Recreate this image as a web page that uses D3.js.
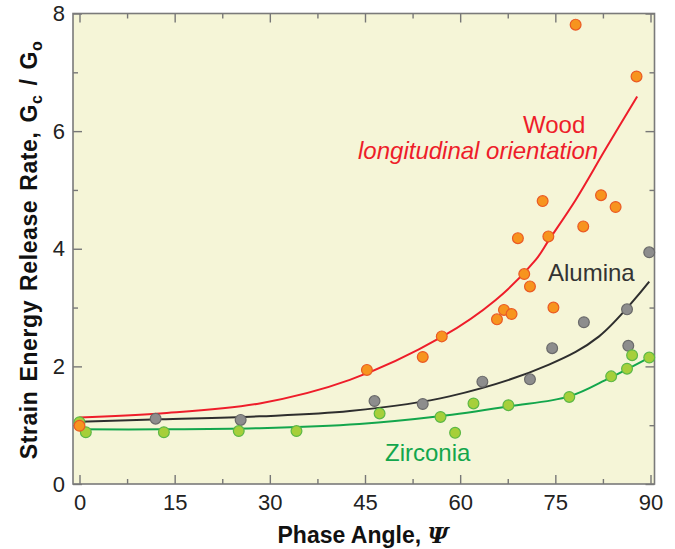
<!DOCTYPE html>
<html>
<head>
<meta charset="utf-8">
<script src="https://cdn.jsdelivr.net/npm/d3@7"></script>
<style>
body { margin: 0; background: #fff; }
text { font-family: "Liberation Sans", Arial, Helvetica, sans-serif; }
</style>
</head>
<body>
<div id="chart-area"></div>
<script>
// Values

var xTicks = [0, 15, 30, 45, 60, 75, 90]
var xMinor = [7.5, 22.5, 37.5, 52.5, 67.5, 82.5]
var yTicks = [0, 2, 4, 6, 8]
var yMinor = [1, 3, 5, 7]

// measured points
var woodAngle = [0, 45.3, 54.1, 57.1, 65.8, 66.9, 68.1, 69.1, 70.1, 71.0, 73.0, 73.9, 74.7, 78.2, 79.4, 82.2, 84.5, 87.8]
var woodRate  = [0.99, 1.94, 2.16, 2.51, 2.80, 2.96, 2.89, 4.18, 3.57, 3.36, 4.81, 4.21, 3.00, 7.81, 4.38, 4.91, 4.71, 6.93]

var aluminaAngle = [12.0, 25.4, 46.5, 54.1, 63.5, 71.0, 74.5, 79.5, 86.3, 86.5, 89.8]
var aluminaRate  = [1.11, 1.09, 1.41, 1.36, 1.74, 1.78, 2.31, 2.75, 2.97, 2.35, 3.94]

var zirconiaAngle = [0, 1.0, 13.3, 25.1, 34.2, 47.3, 56.9, 59.2, 62.1, 67.6, 77.2, 83.8, 86.3, 87.1, 89.8]
var zirconiaRate  = [1.05, 0.88, 0.88, 0.90, 0.90, 1.20, 1.14, 0.87, 1.37, 1.34, 1.48, 1.83, 1.96, 2.19, 2.15]

// fitted curves, traced
var woodFitAngle = [0, 12.7, 28.4, 42.6, 57.1, 65.6, 71.9, 74.0, 78.2, 82.9, 87.9]
var woodFitRate  = [1.13, 1.20, 1.37, 1.77, 2.50, 3.13, 3.81, 4.15, 4.83, 5.69, 6.59]

var aluminaFitAngle = [0, 12.7, 28.4, 42.6, 58.3, 74.0, 81.9, 89.8]
var aluminaFitRate  = [1.06, 1.10, 1.15, 1.24, 1.49, 2.03, 2.51, 3.44]

var zirconiaFitAngle = [0, 12.7, 28.4, 44.1, 56.7, 67.7, 77.2, 83.5, 89.8]
var zirconiaFitRate  = [0.93, 0.93, 0.95, 1.02, 1.15, 1.32, 1.49, 1.80, 2.15]

var margin = {top: 13.5, left: 73}
var width = 581.5
var height = 470.5

var svg = d3.select("#chart-area").append("svg")
.attr("width", 675)
.attr("height", 549)

var g = svg.append("g")
.attr("transform", "translate(" + margin.left + ", " + margin.top + ")")

var x = d3.scaleLinear()
.domain([0, 90])
.range([6.5, 577.5])

var y = d3.scaleLinear()
.domain([0, 8])
.range([height, 0])

// plot background
g.append("rect")
.attr("width", width)
.attr("height", height)
.attr("fill", "#f5f5d7")

// ticks: labelled bottom/left, plain top/right, all pointing inward
function styleAxis(sel) {
	sel.select(".domain").remove()
	sel.selectAll("line").attr("stroke", "#777").attr("stroke-width", 1.4)
	sel.selectAll("text")
	.attr("fill", "#222")
	.attr("font-size", "22px")
	.attr("font-family", "'Liberation Sans', Arial, sans-serif")
}

g.append("g")
.attr("transform", "translate(0, " + height + ")")
.call(d3.axisBottom(x).tickValues(xTicks).tickSizeInner(-9).tickSizeOuter(0).tickPadding(10))
.call(styleAxis)

g.append("g")
.attr("transform", "translate(0, " + height + ")")
.call(d3.axisBottom(x).tickValues(xMinor).tickSize(-5).tickFormat(""))
.call(styleAxis)

g.append("g")
.call(d3.axisTop(x).tickValues(xTicks).tickSize(-9).tickFormat(""))
.call(styleAxis)

g.append("g")
.call(d3.axisTop(x).tickValues(xMinor).tickSize(-5).tickFormat(""))
.call(styleAxis)

g.append("g")
.call(d3.axisLeft(y).tickValues(yTicks).tickSizeInner(-9).tickSizeOuter(0).tickPadding(8))
.call(styleAxis)

g.append("g")
.call(d3.axisLeft(y).tickValues(yMinor).tickSize(-5).tickFormat(""))
.call(styleAxis)

g.append("g")
.attr("transform", "translate(" + width + ", 0)")
.call(d3.axisRight(y).tickValues(yTicks).tickSize(-9).tickFormat(""))
.call(styleAxis)

g.append("g")
.attr("transform", "translate(" + width + ", 0)")
.call(d3.axisRight(y).tickValues(yMinor).tickSize(-5).tickFormat(""))
.call(styleAxis)

// frame
g.append("rect")
.attr("width", width)
.attr("height", height)
.attr("fill", "none")
.attr("stroke", "#7a7a7a")
.attr("stroke-width", 1.6)

// curves
var line = d3.line()
.x(d => x(d[0]))
.y(d => y(d[1]))
.curve(d3.curveCatmullRom.alpha(0.5))

var curves = [
	{angle: aluminaFitAngle, rate: aluminaFitRate, color: "#2e2e2e"},
	{angle: zirconiaFitAngle, rate: zirconiaFitRate, color: "#13a64c"},
	{angle: woodFitAngle, rate: woodFitRate, color: "#ee1d2a"}
]

curves.forEach(c => {
	g.append("path")
	.datum(d3.zip(c.angle, c.rate))
	.attr("d", line)
	.attr("fill", "none")
	.attr("stroke", c.color)
	.attr("stroke-width", 2)
})

// points
var series = [
	{angle: aluminaAngle, rate: aluminaRate, fill: "#8d8d8d", stroke: "#6a6a6a"},
	{angle: zirconiaAngle, rate: zirconiaRate, fill: "#a6cf3a", stroke: "#5cb846"},
	{angle: woodAngle, rate: woodRate, fill: "#f7941e", stroke: "#ea5a24"}
]

series.forEach(s => {
	g.append("g").selectAll("circle")
	.data(d3.zip(s.angle, s.rate))
	.enter().append("circle")
	.attr("cx", d => x(d[0]))
	.attr("cy", d => y(d[1]))
	.attr("r", 5.4)
	.attr("fill", s.fill)
	.attr("stroke", s.stroke)
	.attr("stroke-width", 1.2)
})

// labels in the plot
g.append("text")
.attr("x", 523 - margin.left)
.attr("y", 132.7 - margin.top)
.attr("font-size", "24px")
.attr("fill", "#ee1d2a")
.text("Wood")

g.append("text")
.attr("x", 358 - margin.left)
.attr("y", 159.3 - margin.top)
.attr("font-size", "24px")
.attr("font-style", "italic")
.attr("fill", "#ee1d2a")
.text("longitudinal orientation")

g.append("text")
.attr("x", 548 - margin.left)
.attr("y", 280.7 - margin.top)
.attr("font-size", "24px")
.attr("fill", "#333")
.text("Alumina")

g.append("text")
.attr("x", 385 - margin.left)
.attr("y", 460.7 - margin.top)
.attr("font-size", "24px")
.attr("fill", "#13a64c")
.text("Zirconia")

// X Label
var xLabel = svg.append("text")
.attr("x", 363)
.attr("y", 543)
.attr("text-anchor", "middle")
.attr("font-size", "23px")
.attr("font-weight", "bold")
.attr("fill", "#111")
xLabel.append("tspan").text("Phase Angle, ")
xLabel.append("tspan").attr("font-style", "italic").attr("font-family", "'DejaVu Serif', serif").text("Ψ")

// Y Label
var yLabel = svg.append("text")
.attr("transform", "translate(37, 250) rotate(-90)")
.attr("text-anchor", "middle")
.attr("font-size", "23px")
.attr("font-weight", "bold")
.attr("fill", "#111")
.style("letter-spacing", "0.6px")
.style("word-spacing", "2px")
yLabel.append("tspan").text("Strain Energy Release Rate, G")
yLabel.append("tspan").attr("font-size", "16px").attr("dy", 5).text("c")
yLabel.append("tspan").attr("dy", -5).text(" / G")
yLabel.append("tspan").attr("font-size", "16px").attr("dy", 5).text("o")
</script>
</body>
</html>
